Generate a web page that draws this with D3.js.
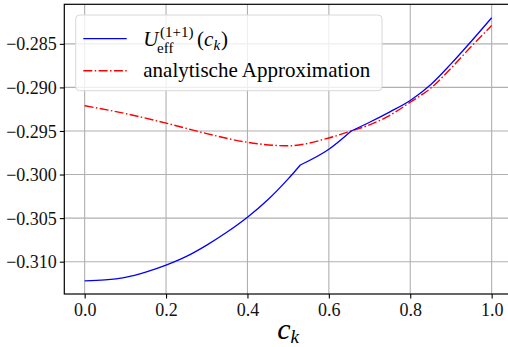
<!DOCTYPE html>
<html>
<head>
<meta charset="utf-8">
<script src="https://cdn.jsdelivr.net/npm/d3@7"></script>
<style>
  html, body { margin: 0; padding: 0; background: #fff; }
  svg { display: block; }
  svg text { font-family: "Liberation Serif", "DejaVu Serif", serif; }
</style>
</head>
<body>
<svg id="chart" width="508" height="347"></svg>
<script>
// ---- data ----
const cBlue = [0, 0.05, 0.1, 0.15, 0.2, 0.25, 0.3, 0.35, 0.4, 0.45, 0.5, 0.53, 0.6, 0.655, 0.7, 0.75, 0.8, 0.85, 0.9, 0.95, 1.0];
const uBlue = [-0.3122, -0.3121, -0.3118, -0.3112, -0.3104, -0.3094, -0.3081, -0.3066, -0.3049, -0.3029, -0.3005, -0.2989, -0.2971, -0.2950, -0.2940, -0.2928, -0.2915, -0.2897, -0.2873, -0.2847, -0.2820];
const blueBreaks = [0.53, 0.655];
const cRed = [0, 0.1, 0.2, 0.3, 0.4, 0.5, 0.6, 0.655, 0.7, 0.75, 0.8, 0.85, 0.9, 0.95, 1.0];
const uRed = [-0.2921, -0.2930, -0.2941, -0.2953, -0.2963, -0.2967, -0.2958, -0.2950, -0.2943, -0.2932, -0.2917, -0.2901, -0.2878, -0.2853, -0.2829];
const xTicks = [0, 0.2, 0.4, 0.6, 0.8, 1.0];
const yTicks = [-0.310, -0.305, -0.300, -0.295, -0.290, -0.285];
const legendLabels = ["analytische Approximation"];

const svg = d3.select("#chart");
const L = 64.3, T = 4.3, R = 512, B = 294;
const x = d3.scaleLinear().domain([-0.05, 1.05]).range([L, R]);
const y = d3.scaleLinear().domain([-0.31371, -0.28046]).range([B, T]);
const serif = '"Liberation Serif", "DejaVu Serif", serif';

// grid
const grid = svg.append("g");
grid.selectAll("line.gx").data(xTicks).enter().append("line")
  .attr("x1", d => x(d)).attr("x2", d => x(d)).attr("y1", T).attr("y2", B)
  .attr("stroke", "#b0b0b0").attr("stroke-width", 1.1);
grid.selectAll("line.gy").data(yTicks).enter().append("line")
  .attr("y1", d => y(d)).attr("y2", d => y(d)).attr("x1", L).attr("x2", R)
  .attr("stroke", "#b0b0b0").attr("stroke-width", 1.1);

// lines
const blueData = cBlue.map((c, i) => [c, uBlue[i]]);
const redData = cRed.map((c, i) => [c, uRed[i]]);
const smooth = d3.line().x(d => x(d[0])).y(d => y(d[1])).curve(d3.curveMonotoneX);
svg.append("path").datum(redData)
  .attr("d", smooth)
  .attr("fill", "none").attr("stroke", "#ff0000").attr("stroke-width", 1.4)
  .attr("stroke-dasharray", "9,2.4,1.5,2.4");
// blue: smooth pieces joined at the kinks
const edges = [0, ...blueBreaks, 1.0];
let dBlue = "";
for (let i = 0; i < edges.length - 1; i++) {
  const seg = blueData.filter(p => p[0] >= edges[i] - 1e-9 && p[0] <= edges[i + 1] + 1e-9);
  let s = smooth(seg);
  if (i > 0) s = "L" + s.slice(1);
  dBlue += s;
}
svg.append("path").attr("d", dBlue)
  .attr("fill", "none").attr("stroke", "#0000ff").attr("stroke-width", 1.3)
  .attr("stroke-linejoin", "round");

// axes
const fmtY = d => "\u2212" + d3.format(".3f")(Math.abs(d));
const gx = svg.append("g").attr("transform", `translate(0,${B})`)
  .call(d3.axisBottom(x).tickValues(xTicks).tickFormat(d3.format(".1f")).tickSize(4.5).tickPadding(4));
const gy = svg.append("g").attr("transform", `translate(${L},0)`)
  .call(d3.axisLeft(y).tickValues(yTicks).tickFormat(fmtY).tickSize(4.5).tickPadding(3));
[gx, gy].forEach(g => {
  g.attr("font-family", null).attr("font-size", null);
  g.select(".domain").remove();
  g.selectAll(".tick line").attr("stroke", "#000").attr("stroke-width", 1.1);
  g.selectAll(".tick text").style("font-family", serif).style("font-size", "18px").attr("fill", "#111");
});
gx.selectAll(".tick text").attr("dy", "0.75em");
gy.selectAll(".tick text").attr("dy", "0.34em");

// spines
svg.append("rect").attr("x", L).attr("y", T).attr("width", R - L).attr("height", B - T)
  .attr("fill", "none").attr("stroke", "#000").attr("stroke-width", 1.2);

// x label c_k
const xl = svg.append("text").attr("x", x(0.5)).attr("y", 339).attr("text-anchor", "middle")
  .style("font-family", serif).style("font-style", "italic").style("font-size", "30px").attr("fill", "#000");
xl.append("tspan").text("c");
xl.append("tspan").style("font-size", "19px").attr("dy", 4).text("k");

// legend
const lg = svg.append("g");
lg.append("rect").attr("x", 75.7).attr("y", 15).attr("width", 306.3).attr("height", 75.7)
  .attr("rx", 4).attr("fill", "rgba(255,255,255,0.8)").attr("stroke", "#d8d8d8").attr("stroke-width", 1);
lg.append("line").attr("x1", 83.3).attr("x2", 126.7).attr("y1", 38.7).attr("y2", 38.7)
  .attr("stroke", "#0000ff").attr("stroke-width", 1.3);
lg.append("line").attr("x1", 83.3).attr("x2", 126.7).attr("y1", 70.7).attr("y2", 70.7)
  .attr("stroke", "#ff0000").attr("stroke-width", 1.4).attr("stroke-dasharray", "9,2.4,1.5,2.4");

// U_eff^(1+1)(c_k)
const tf = (xx, yy, size, italic, txt) => lg.append("text").attr("x", xx).attr("y", yy)
  .style("font-family", serif).style("font-size", size + "px").style("font-style", italic ? "italic" : "normal")
  .attr("fill", "#000").text(txt);
tf(143.3, 46, 21, true, "U");
tf(157, 53, 15, false, "eff");
tf(160, 37, 15, false, "(1+1)");
tf(197, 46, 21, false, "(");
tf(204, 46, 21, true, "c");
tf(213.5, 50, 15, true, "k");
tf(221, 46, 21, false, ")");
tf(143.3, 77, 21, false, legendLabels[0]);
</script>
</body>
</html>
